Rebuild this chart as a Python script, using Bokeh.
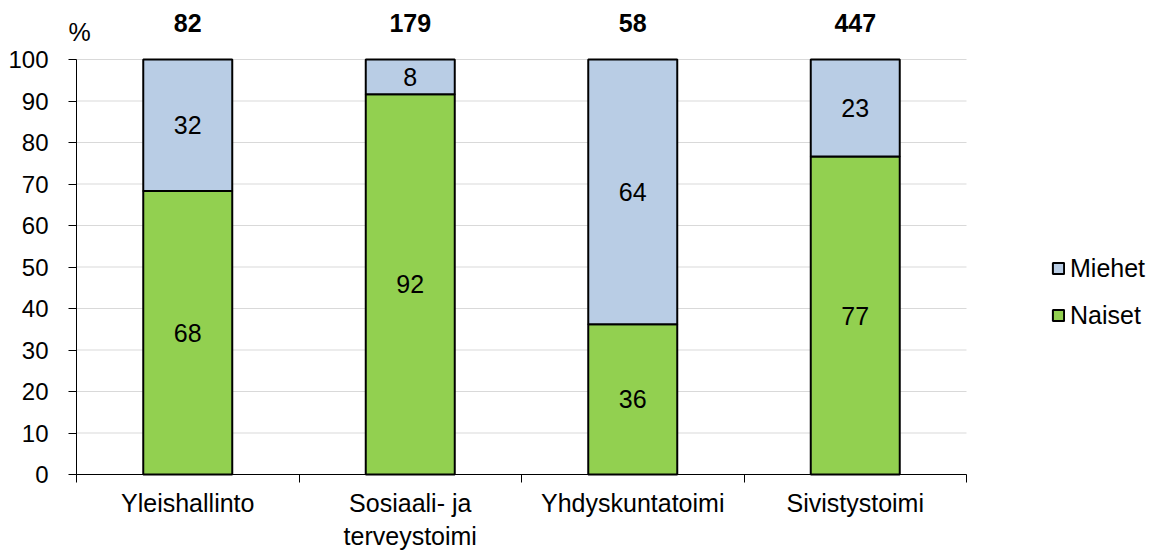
from bokeh.plotting import figure
from bokeh.models import (ColumnDataSource, Range1d, FixedTicker, LabelSet, Label,
                          Legend, LegendItem)
from bokeh.embed import file_html
from bokeh.resources import INLINE
from bokeh.core.properties import value

categories = ["Yleishallinto", "Sosiaali- ja\nterveystoimi", "Yhdyskuntatoimi", "Sivistystoimi"]
naiset = [68.3, 91.6, 36.2, 76.6]
miehet = [31.7, 8.4, 63.8, 23.4]
totals = [82, 179, 58, 447]
yticks = list(range(0, 101, 10))

FONT = "Liberation Sans"
FS = "25px"
n = len(categories)

xpos = [i + 0.5 for i in range(n)]
src = ColumnDataSource(dict(
    x=xpos, Naiset=naiset, Miehet=miehet,
    n_mid=[v / 2 for v in naiset],
    m_mid=[a + b / 2 for a, b in zip(naiset, miehet)],
    n_lab=["%.0f" % v for v in naiset],
    m_lab=["%.0f" % v for v in miehet],
    top=[a + b for a, b in zip(naiset, miehet)],
    tot=[str(t) for t in totals],
))

# plot area: x=76..966 px (4 categories), y=474 (0) .. 59 (100)
W, H = 1158, 552
PX_X = (966 - 76) / n
PX_Y = (474 - 59) / 100
p = figure(width=W, height=H, output_backend="svg", toolbar_location=None,
           x_range=Range1d(-76 / PX_X, (W - 76) / PX_X),
           y_range=Range1d(-(H - 474) / PX_Y, 474 / PX_Y),
           min_border_left=0, min_border_top=0, min_border_right=0, min_border_bottom=0)
p.outline_line_color = None
p.xgrid.visible = False
p.ygrid.visible = False

# horizontal gridlines over the category span
p.segment(x0=0, x1=n, y0=yticks, y1=yticks, line_color="#d9d9d9", line_width=1)

rs = p.vbar_stack(["Naiset", "Miehet"], x="x", width=0.4, source=src,
                  fill_color=["#92d050", "#b9cde5"], line_color="black", line_width=2)

# segment labels
for ycol, tcol in (("n_mid", "n_lab"), ("m_mid", "m_lab")):
    p.text(x="x", y=ycol, text=tcol, source=src, text_align="center",
           text_baseline="middle", text_font=value(FONT), text_font_size=FS,
           text_color="black")

# totals above bars
tot = LabelSet(x="x", y="top", text="tot", source=src, text_align="center",
               text_baseline="middle", y_offset=37, text_font=value(FONT),
               text_font_size=FS, text_font_style="bold", text_color="black")
p.add_layout(tot)

pct = Label(x=0, y=100, text="%", x_offset=3, y_offset=28, text_align="center",
            text_baseline="middle", text_font=FONT, text_font_size=FS,
            text_color="black")
p.add_layout(pct)

# axes
ya = p.yaxis[0]
ya.fixed_location = 0
ya.bounds = (0, 100)
ya.ticker = FixedTicker(ticks=yticks, minor_ticks=[])
ya.major_label_text_font = FONT
ya.major_label_text_font_size = "24px"
ya.major_label_text_color = "black"
ya.axis_line_color = "black"
ya.major_tick_line_color = "black"
ya.major_tick_out = 8
ya.major_tick_in = 0
ya.minor_tick_line_color = None
ya.major_label_standoff = 20

xa = p.xaxis[0]
xa.fixed_location = 0
xa.bounds = (0, n)
xa.ticker = FixedTicker(ticks=xpos, minor_ticks=list(range(n + 1)))
xa.major_label_overrides = {x: c for x, c in zip(xpos, categories)}
xa.major_label_text_font = FONT
xa.major_label_text_font_size = FS
xa.major_label_text_color = "black"
xa.axis_line_color = "black"
xa.major_tick_out = 0
xa.major_tick_in = 0
xa.minor_tick_out = 8
xa.minor_tick_in = 0
xa.minor_tick_line_color = "black"
xa.major_label_standoff = 6

legend = Legend(items=[LegendItem(label="Miehet", renderers=[rs[1]]),
                       LegendItem(label="Naiset", renderers=[rs[0]])],
                location=(1051, H - 330), orientation="vertical",
                label_text_font=FONT, label_text_font_size=FS, label_text_color="black",
                glyph_width=14, glyph_height=14, label_standoff=5, spacing=17,
                label_height=30, padding=0, margin=0,
                border_line_color=None, background_fill_alpha=0)
p.add_layout(legend)

open("out.html", "w").write(file_html(p, INLINE))
